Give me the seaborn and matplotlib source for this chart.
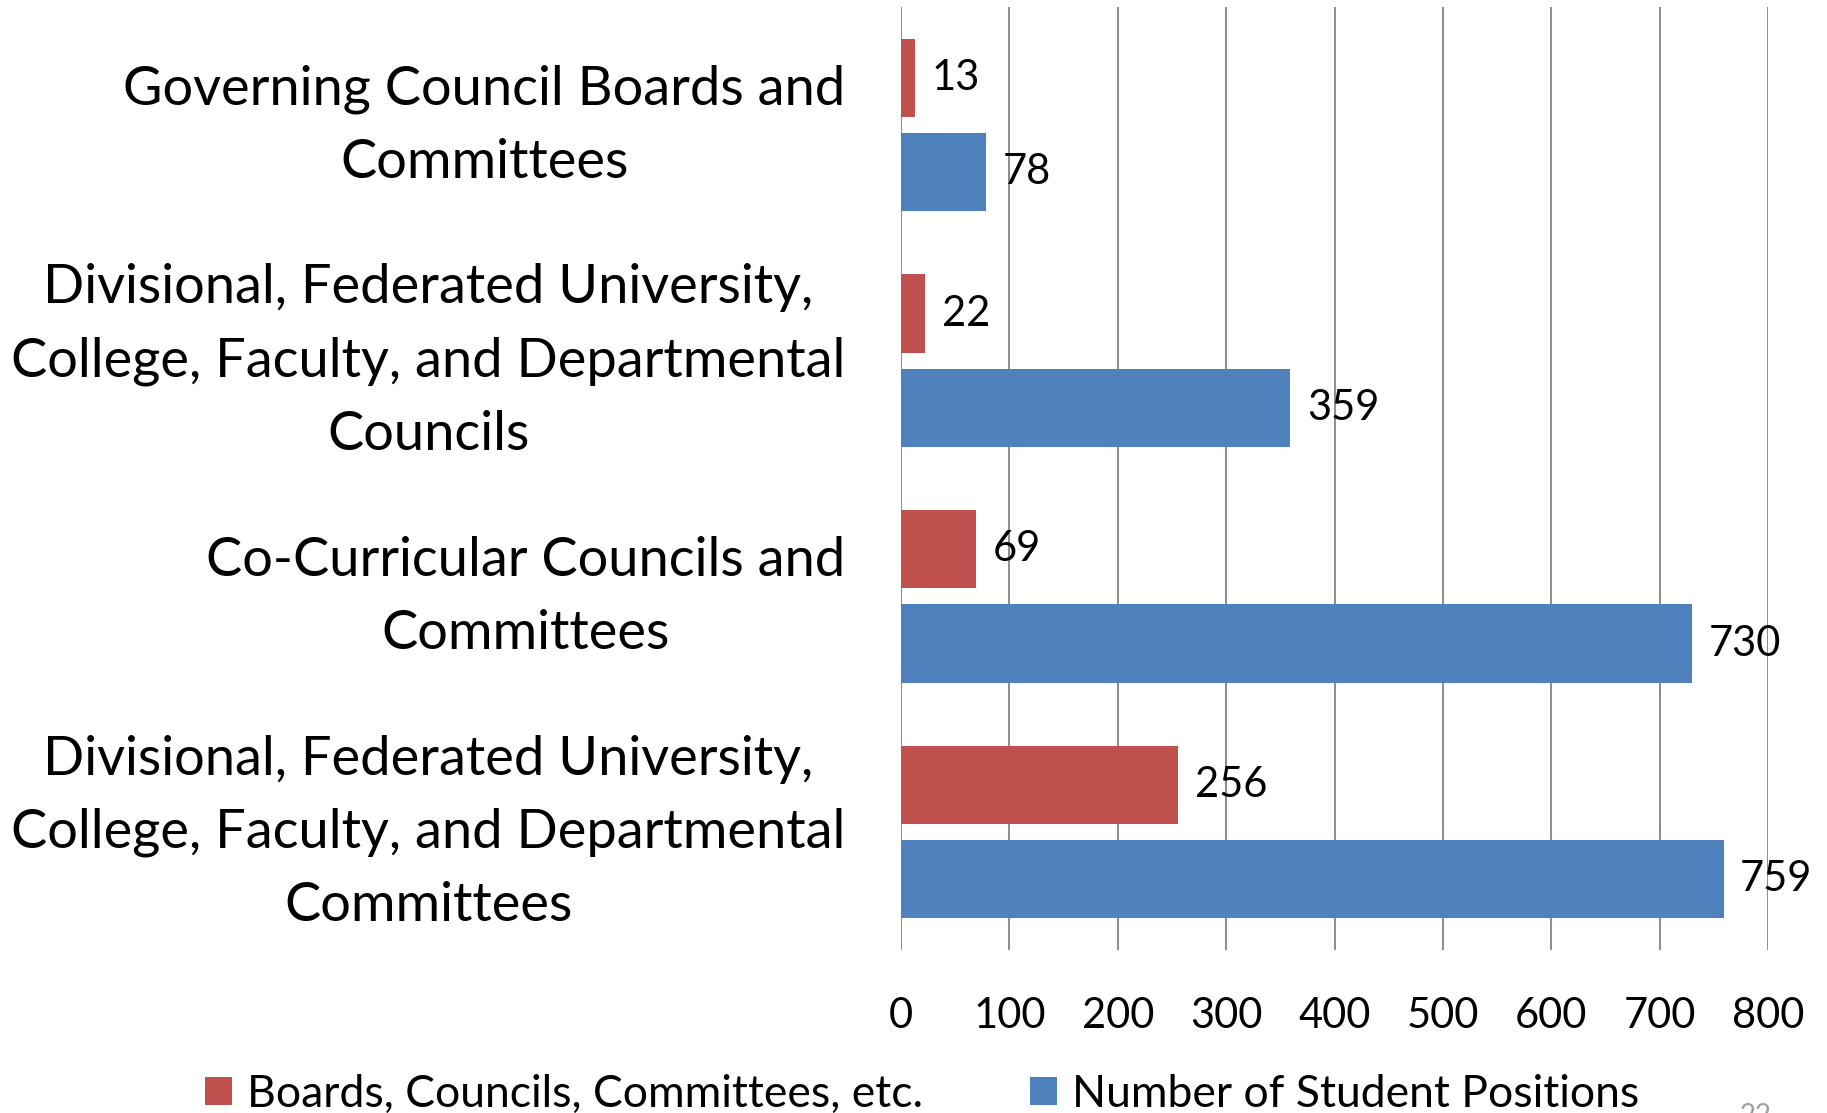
import pandas as pd
import matplotlib.pyplot as plt
import matplotlib.transforms as mtransforms
import seaborn as sns

# dati
categorie = [
    "Governing Council Boards and\nCommittees",
    "Divisional, Federated University,\nCollege, Faculty, and Departmental\nCouncils",
    "Co-Curricular Councils and\nCommittees",
    "Divisional, Federated University,\nCollege, Faculty, and Departmental\nCommittees",
]
serie = ["Boards, Councils, Committees, etc.", "Number of Student Positions"]
organi = [13, 22, 69, 256]
posizioni = [78, 359, 730, 759]
tick_x = [0, 100, 200, 300, 400, 500, 600, 700, 800]

colori = ["#C0504D", "#4F81BD"]

df = pd.DataFrame({
    "categoria": categorie * 2,
    "serie": [serie[0]] * 4 + [serie[1]] * 4,
    "valore": organi + posizioni,
})

sns.set_style("white")
plt.rcParams["font.family"] = ["Lato", "DejaVu Sans"]
plt.rcParams["text.color"] = "black"
plt.rcParams["xtick.color"] = "black"
plt.rcParams["ytick.color"] = "black"

fig = plt.figure(figsize=(18.27, 11.13), dpi=100)
ax = fig.add_axes([0.4932, 0.1464, 0.4745, 0.8473])

sns.barplot(data=df, y="categoria", x="valore", hue="serie", hue_order=serie,
            palette=colori, saturation=1, width=0.8, gap=0.17, linewidth=0,
            orient="h", ax=ax, zorder=3)

ax.set_xlim(0, 800)
ax.set_ylim(3.5, -0.5)
ax.set_xticks(tick_x)
ax.set_xlabel("")
ax.set_ylabel("")
for s in ax.spines.values():
    s.set_visible(False)
ax.grid(axis="x", color="#8C8C8C", linewidth=1.4, zorder=0)
ax.grid(axis="y", visible=False)
ax.set_axisbelow(True)
ax.tick_params(axis="x", length=0, pad=34, labelsize=30, labelcolor="black")
ax.tick_params(axis="y", length=0, pad=40, labelsize=39, labelcolor="black")

# etichette delle categorie: centrate e un po' più in alto
spost = mtransforms.ScaledTranslation(0, 11.5 / 72, fig.dpi_scale_trans)
for t in ax.get_yticklabels():
    t.set_multialignment("center")
    t.set_linespacing(1.6)
    t.set_transform(t.get_transform() + spost)

# etichette dei valori
for cont in ax.containers:
    ax.bar_label(cont, padding=12, fontsize=30, color="black")

# legenda in basso
handles, labels = ax.get_legend_handles_labels()
ax.get_legend().remove()
fig.legend(handles, labels, loc="center", bbox_to_anchor=(0.5047, 0.017), ncol=2,
           frameon=False, fontsize=32, handlelength=0.6, handleheight=0.6,
           handletextpad=0.35, columnspacing=2.4, borderaxespad=0, borderpad=0)

# numero di pagina
fig.text(0.9525, 0.009, "22", color="#A0A0A0", fontsize=20, va="top")

fig.savefig("out.png", dpi=100)
